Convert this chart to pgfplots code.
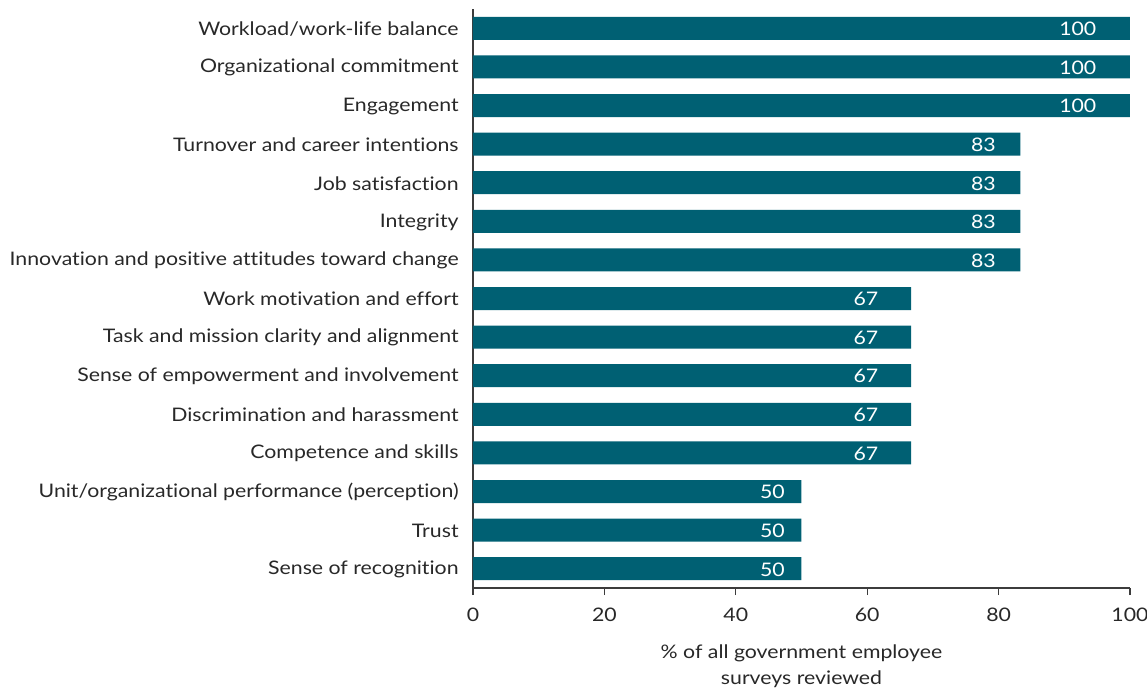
\documentclass[border=0pt]{standalone}
\usepackage{fontspec}
\setmainfont{Lato}[FakeStretch=1.14, Ligatures=NoCommon]
\usepackage{pgfplots}
\pgfplotsset{compat=1.18}
\usepackage{pgfplotstable}
\definecolor{barc}{RGB}{0,96,115}
\definecolor{axc}{RGB}{60,60,60}
\definecolor{txc}{RGB}{40,40,40}
\pgfplotstableread{
y val off
0 100 29
1 100 29
2 100 29
3 83.33 20
4 83.33 20
5 83.33 20
6 83.33 20
7 66.67 28
8 66.67 28
9 66.67 28
10 66.67 28
11 66.67 28
12 50 12
13 50 12
14 50 12
}\datatab
\begin{document}
\begin{tikzpicture}
\useasboundingbox (-354.75pt,-76.5pt) rectangle (505.5pt,441pt);
\begin{axis}[
  at={(0,0)}, anchor=south west,
  scale only axis,
  width=492.75pt, height=434.25pt,
  xbar, bar width=17.25pt,
  xmin=0, xmax=100,
  ymin=-0.5, ymax=14.5,
  y dir=reverse,
  axis lines=left,
  axis line style={axc, line width=0.9pt, -},
  xtick={0,20,...,100},
  ytick={0,...,14},
  yticklabels={Workload/work-life balance, Organizational commitment, Engagement, Turnover and career intentions, Job satisfaction, Integrity, Innovation and positive attitudes toward change, Work motivation and effort, Task and mission clarity and alignment, Sense of empowerment and involvement, Discrimination and harassment, Competence and skills, Unit/organizational performance (perception), Trust, Sense of recognition},
  minor ytick={-0.5,0.5,...,14.5},
  tick align=outside,
  tick style={axc, line width=0.9pt},
  ytick style={draw=none},
  minor tick length=5.25pt,
  major tick length=5.25pt,
  minor y tick style={axc, line width=0.9pt},
  /pgf/number format/assume math mode=true,
  ticklabel style={font=\fontsize{14}{16}\selectfont, text=txc},
  yticklabel style={xshift=-2pt, yshift=-0.5pt},
  xticklabel style={yshift=-6.5pt},
  xlabel={\% of all government employee\\surveys reviewed},
  xlabel style={at={(axis description cs:0.5,0)}, anchor=north, yshift=-39pt, align=center, font=\fontsize{14}{19.5}\selectfont, text=txc},
  nodes near coords,
  nodes near coords align={anchor=east},
  visualization depends on={\thisrow{off} \as \off},
  every node near coord/.append style={font=\fontsize{14}{16}\selectfont, text=white, anchor=east, xshift=-0.75pt*\off+0pt, yshift=-0.5pt, /pgf/number format/fixed, /pgf/number format/precision=0, /pgf/number format/assume math mode=true},
  clip=false,
]
\addplot[fill=barc, draw=none] table[x=val, y=y] {\datatab};
\end{axis}
\end{tikzpicture}
\end{document}
